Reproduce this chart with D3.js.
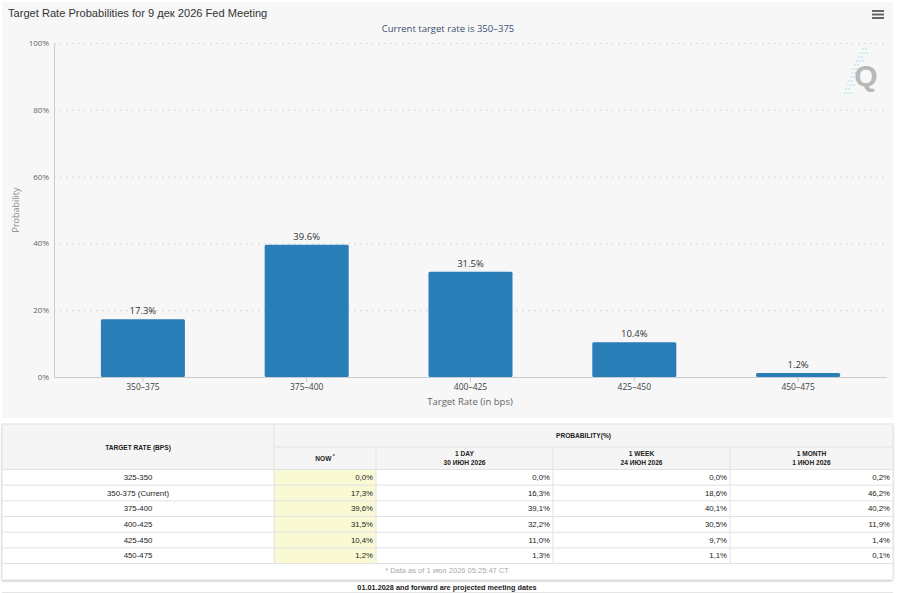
<!DOCTYPE html>
<html><head><meta charset="utf-8">
<script src="https://cdn.jsdelivr.net/npm/d3@7"></script>
<style>
html,body{margin:0;padding:0;background:#fff;}
svg{display:block;}
</style></head>
<body>
<svg id="c" width="900" height="593"></svg>
<script>
// ---- data ----
const categories = ["350\u2013375","375\u2013400","400\u2013425","425\u2013450","450\u2013475"];
const probabilities = [17.3, 39.6, 31.5, 10.4, 1.2];
const yTicks = [0, 20, 40, 60, 80, 100];
const tableRates = ["325-350","350-375 (Current)","375-400","400-425","425-450","450-475"];
const nowCol = ["0,0%","17,3%","39,6%","31,5%","10,4%","1,2%"];
const dayCol = ["0,0%","16,3%","39,1%","32,2%","11,0%","1,3%"];
const weekCol = ["0,0%","18,6%","40,1%","30,5%","9,7%","1,1%"];
const monthCol = ["0,2%","46,2%","40,2%","11,9%","1,4%","0,1%"];
const colHeaders = [["NOW"],["1 DAY","30 ИЮН 2026"],["1 WEEK","24 ИЮН 2026"],["1 MONTH","1 ИЮН 2026"]];

const svg = d3.select("#c");
const sans = "'Open Sans', 'DejaVu Sans', sans-serif";
const arial = "'Liberation Sans', Arial, sans-serif";

// panel
svg.append("rect").attr("x",2).attr("y",2).attr("width",891).attr("height",416).attr("fill","#f7f7f7");

// title
svg.append("text").attr("x",8).attr("y",17).attr("font-family",arial).attr("font-size",11.1)
  .attr("fill","#333").text("Target Rate Probabilities for 9 дек 2026 Fed Meeting");
svg.append("text").attr("x",448).attr("y",32).attr("text-anchor","middle").attr("font-family",sans)
  .attr("font-size",9.5).attr("fill","#3a4f73").text("Current target rate is 350\u2013375");

// hamburger
[11,14.5,18].forEach(y=>svg.append("line").attr("x1",872).attr("x2",884).attr("y1",y).attr("y2",y)
  .attr("stroke","#666").attr("stroke-width",2));

// Q watermark
const wm = svg.append("g");
[[862,49],[860,53],[858,57],[856,61],[854,65],[852,69],[851,73],[850,77],[848,81],[847,85],[845,89],[844,93]].forEach(([x,y],i)=>{
  wm.append("line").attr("x1",x).attr("x2",x+ (i%2?9:6)).attr("y1",y).attr("y2",y)
    .attr("stroke","#c5e6f4").attr("stroke-width",1.3).attr("stroke-dasharray","2,1");
});
wm.append("text").attr("x",866).attr("y",86).attr("text-anchor","middle").attr("font-family",arial)
  .attr("font-weight","bold").attr("font-size",30).attr("fill","#b8b8b8").text("Q");

// scales
const x = d3.scaleBand().domain(categories).range([61,880]).paddingInner(0.487).paddingOuter(0.2435);
const y = d3.scaleLinear().domain([0,100]).range([377,43]);

// gridlines
svg.append("g").selectAll("line").data(yTicks.filter(d=>d>0)).join("line")
  .attr("x1",54).attr("x2",887).attr("y1",d=>y(d)+0.5).attr("y2",d=>y(d)+0.5)
  .attr("stroke","#d0d0d0").attr("stroke-dasharray","1.5,4.5");

// y axis
const yAxis = svg.append("g").attr("transform","translate(54,0)")
  .call(d3.axisLeft(y).tickValues(yTicks).tickFormat(d=>d+"%").tickSize(0).tickPadding(5));
yAxis.select(".domain").attr("stroke","#ccc");
yAxis.selectAll("text").attr("font-family",sans).attr("font-size",8).attr("fill","#666").attr("dy","0.32em");

svg.append("text").attr("transform","translate(19,210) rotate(-90)").attr("text-anchor","middle")
  .attr("font-family",sans).attr("font-size",9).attr("fill","#888").text("Probability");

// bars
svg.append("g").selectAll("rect").data(probabilities).join("rect")
  .attr("x",(d,i)=>x(categories[i])).attr("width",x.bandwidth())
  .attr("y",d=>y(d)).attr("height",d=>y(0)-y(d))
  .attr("rx",1.5).attr("fill","#2a7eb8");

// x axis
const xAxis = svg.append("g").attr("transform","translate(0,377)")
  .call(d3.axisBottom(x).tickSize(5).tickSizeOuter(0).tickPadding(1.5));
xAxis.select(".domain").attr("d","M54,0.5H887").attr("stroke","#ccc");
xAxis.selectAll(".tick line").attr("stroke","#ccc");
xAxis.selectAll("text").attr("font-family",sans).attr("font-size",8.5).attr("fill","#444");

svg.append("text").attr("x",470).attr("y",404.5).attr("text-anchor","middle").attr("font-family",sans)
  .attr("font-size",9.5).attr("fill","#666").text("Target Rate (in bps)");

// data labels
svg.append("g").selectAll("text").data(probabilities).join("text")
  .attr("x",(d,i)=>x(categories[i])+x.bandwidth()/2).attr("y",d=>y(d)-5)
  .attr("text-anchor","middle").attr("font-family",sans).attr("font-size",9.5).attr("fill","#333")
  .text(d=>d.toFixed(1)+"%");

// ---- table ----
const defs = svg.append("defs");
const f = defs.append("filter").attr("id","sh").attr("x","-5%").attr("y","-5%").attr("width","110%").attr("height","115%");
f.append("feDropShadow").attr("dx",0).attr("dy",1.5).attr("stdDeviation",1.2).attr("flood-color","#000").attr("flood-opacity",0.25);

const colX = [2,274,376,553,730,893];
const tTop = 424, h1 = 447, h2 = 469.5, rowH = 15.67;
const T = svg.append("g");
T.append("rect").attr("x",2).attr("y",tTop).attr("width",891).attr("height",155.5).attr("fill","#fff").attr("filter","url(#sh)");
T.append("rect").attr("x",2).attr("y",tTop).attr("width",891).attr("height",h2-tTop).attr("fill","#f5f5f5");
// now column yellow
T.append("rect").attr("x",colX[1]).attr("y",h2).attr("width",colX[2]-colX[1]).attr("height",rowH*6).attr("fill","#f9f9d3");

const lineC = "#e2e2e2";
function hl(x1,x2,yy){T.append("line").attr("x1",x1).attr("x2",x2).attr("y1",yy).attr("y2",yy).attr("stroke",lineC);}
function vl(xx,y1,y2){T.append("line").attr("x1",xx).attr("x2",xx).attr("y1",y1).attr("y2",y2).attr("stroke",lineC);}
hl(2,893,tTop);
hl(colX[1],893,h1);
for(let i=0;i<=6;i++) hl(2,893,h2+i*rowH);
vl(colX[1],tTop,h2+6*rowH);
for(let c=2;c<5;c++) vl(colX[c],h1,h2+6*rowH);
vl(2,tTop,579.5); vl(893,tTop,579.5);

function tx(xx,yy,s,anchor,opts={}){
  return T.append("text").attr("x",xx).attr("y",yy).attr("text-anchor",anchor).attr("font-family",arial)
    .attr("font-size",opts.size||7.8).attr("font-weight",opts.bold?"bold":"normal").attr("fill",opts.fill||"#222").text(s);
}
tx((colX[0]+colX[1])/2,449.5,"TARGET RATE (BPS)","middle",{bold:true,size:6.6});
tx((colX[1]+colX[5])/2,438,"PROBABILITY(%)","middle",{bold:true,size:6.6});
colHeaders.forEach((lines,c)=>{
  const cx=(colX[c+1]+colX[c+2])/2;
  if(lines.length===1){
    const t=tx(cx,461,lines[0],"middle",{bold:true,size:6.6});
    t.append("tspan").attr("dy",-3).attr("font-size",5).text(" *");
  } else {
    tx(cx,456,lines[0],"middle",{bold:true,size:6.6});
    tx(cx,465,lines[1],"middle",{bold:true,size:6.6});
  }
});
const cols=[nowCol,dayCol,weekCol,monthCol];
tableRates.forEach((r,i)=>{
  const yy=h2+i*rowH+rowH/2+2.8;
  tx((colX[0]+colX[1])/2,yy,r,"middle");
  cols.forEach((col,c)=>tx(colX[c+2]-3,yy,col[i],"end"));
});
tx(447,573,"* Data as of 1 июл 2026 05:25:47 CT","middle",{fill:"#aaa",size:7.5});

svg.append("text").attr("x",447).attr("y",590).attr("text-anchor","middle").attr("font-family",arial)
  .attr("font-size",7.3).attr("font-weight","bold").attr("fill","#222").text("01.01.2028 and forward are projected meeting dates");
svg.append("line").attr("x1",2).attr("x2",893).attr("y1",592.5).attr("y2",592.5).attr("stroke","#e5e5e5");
</script>
</body></html>
